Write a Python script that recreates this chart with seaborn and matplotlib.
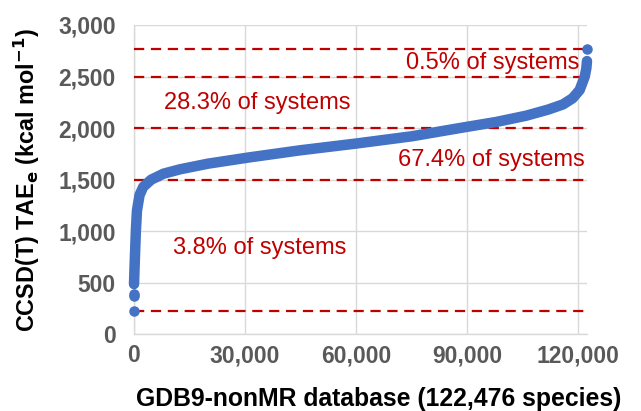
import matplotlib
matplotlib.use("Agg")
import matplotlib.pyplot as plt
import seaborn as sns
import pandas as pd
from matplotlib.ticker import FuncFormatter, FixedLocator

# ---- data (sorted CCSD(T) TAEe vs rank) ----
curve_rank = [3, 200, 500, 800, 1500, 2500, 4650, 8000, 12400, 20000, 31000,
              45000, 60000, 75000, 88000, 98000, 106000, 112000, 116000,
              118600, 120500, 121864, 122300, 122470]
curve_tae = [487, 700, 1000, 1200, 1350, 1430, 1500, 1558, 1600, 1655, 1715,
             1785, 1850, 1920, 2000, 2060, 2120, 2180, 2230,
             2290, 2370, 2500, 2580, 2650]
outlier_rank = [0, 1, 2, 122476]
outlier_tae = [225, 372, 392, 2770]

thresholds = [225, 1500, 2000, 2500, 2770]
ann_labels = ["0.5% of systems", "28.3% of systems", "67.4% of systems", "3.8% of systems"]
ann_rank = [73500, 8000, 71500, 10500]
ann_tae = [2629, 2241, 1689, 836]

x_ticks = [0, 30000, 60000, 90000, 120000]
y_ticks = [0, 500, 1000, 1500, 2000, 2500, 3000]

curve_df = pd.DataFrame({"rank": curve_rank, "tae": curve_tae})
out_df = pd.DataFrame({"rank": outlier_rank, "tae": outlier_tae})

sns.set_theme(style="white")
plt.rcParams["font.family"] = ["Liberation Sans", "DejaVu Sans"]

W, H = 641, 411
fig = plt.figure(figsize=(W / 100, H / 100), dpi=100)
ax = fig.add_axes([134 / W, 1 - 334.3 / H, (587 - 134) / W, (334.3 - 25) / H])

blue = "#4472C4"
red = "#C00000"
grid = "#D9D9D9"
marker_d = 10.5 * 72 / 100  # points

for y in thresholds:
    ax.axhline(y, color=red, lw=1.6, ls=(0, (4.6, 3.0)), zorder=3)

sns.lineplot(data=curve_df, x="rank", y="tae", ax=ax, color=blue,
             lw=marker_d, solid_capstyle="round", solid_joinstyle="round",
             zorder=4, clip_on=False)
sns.scatterplot(data=out_df, x="rank", y="tae", ax=ax, color=blue,
                s=marker_d ** 2, linewidth=0, zorder=4, clip_on=False)

for lab, xr, yv in zip(ann_labels, ann_rank, ann_tae):
    ax.text(xr, yv, lab, color=red, fontsize=17, ha="left", va="center", zorder=5)

ax.set_xlim(0, 122476)
ax.set_ylim(0, 3000)
ax.xaxis.set_major_locator(FixedLocator(x_ticks))
ax.yaxis.set_major_locator(FixedLocator(y_ticks))
fmt = FuncFormatter(lambda v, p: f"{int(v):,}")
ax.xaxis.set_major_formatter(fmt)
ax.yaxis.set_major_formatter(fmt)
ax.grid(True, color=grid, lw=1.0, zorder=0)
ax.set_axisbelow(True)
for s in ["top", "right"]:
    ax.spines[s].set_visible(False)
for s in ["left", "bottom"]:
    ax.spines[s].set_color(grid)
    ax.spines[s].set_linewidth(1.0)
ax.tick_params(axis="both", length=0, labelsize=16.5, labelcolor="#595959")
ax.tick_params(axis="y", pad=13)
ax.tick_params(axis="x", pad=7)
for t in ax.get_xticklabels() + ax.get_yticklabels():
    t.set_fontweight("bold")

ax.set_xlabel("GDB9-nonMR database (122,476 species)", fontsize=17.8,
              fontweight="bold", color="black")
ax.xaxis.set_label_coords(0.54, -0.17)
ax.set_ylabel(r"CCSD(T) TAE$_\mathbf{e}$ (kcal mol$^{\mathbf{-1}}$)", fontsize=16.8,
              fontweight="bold", color="black", labelpad=12)

fig.savefig("out.png", dpi=100)
